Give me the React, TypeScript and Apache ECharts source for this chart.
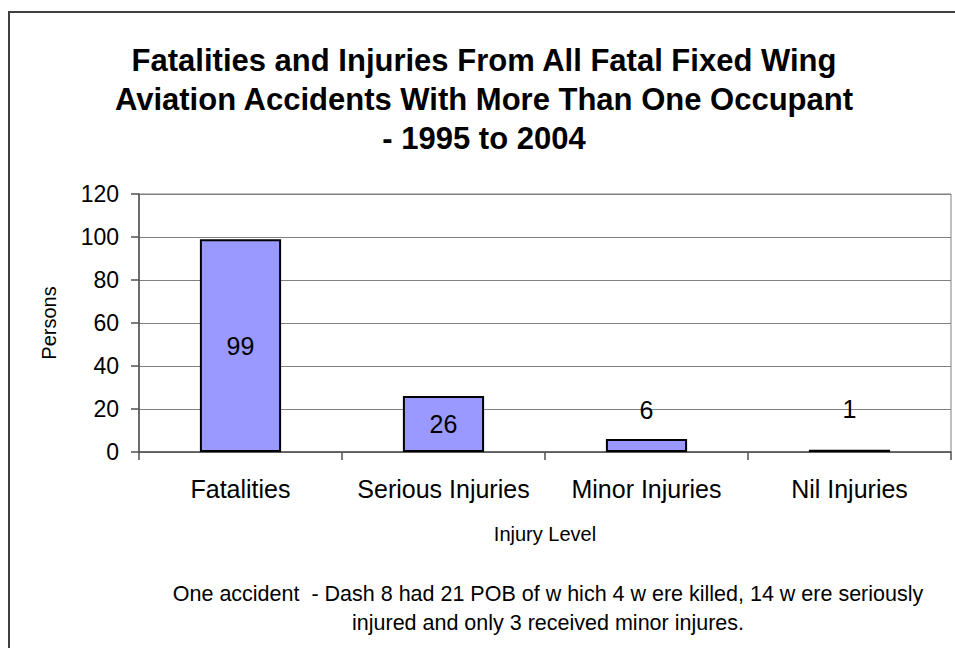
import React, { useEffect, useRef } from "react";
import * as echarts from "echarts";

const titleLines = [
  "Fatalities and Injuries From All Fatal Fixed Wing",
  "Aviation Accidents With More Than One Occupant",
  "- 1995 to 2004",
];
const categories = ["Fatalities", "Serious Injuries", "Minor Injuries", "Nil Injuries"];
const persons = [99, 26, 6, 1];
const yMin = 0;
const yMax = 120;
const yInterval = 20;
const yAxisName = "Persons";
const xAxisName = "Injury Level";
const footnoteLines = [
  "One accident  - Dash 8 had 21 POB of w hich 4 w ere killed, 14 w ere seriously",
  "injured and only 3 received minor injures.",
];

const FONT = "'Liberation Sans', Arial, sans-serif";

export default function App() {
  const ref = useRef<HTMLDivElement>(null);
  useEffect(() => {
    if (!ref.current) return;
    const chart = echarts.init(ref.current, null, { renderer: "svg" });
    const labelPlacement = [
      { position: "inside" },
      { position: "inside" },
      { position: "top", distance: 17 },
      { position: "top", distance: 28 },
    ];
    chart.setOption({
      animation: false,
      backgroundColor: "#ffffff",
      textStyle: { fontFamily: FONT },
      title: {
        text: titleLines.join("\n"),
        left: 479,
        top: 36,
        textAlign: "center",
        textStyle: {
          fontFamily: FONT,
          fontSize: 31,
          fontWeight: "bold",
          color: "#000",
          lineHeight: 39,
        },
      },
      grid: {
        left: 139,
        top: 194,
        right: 4,
        bottom: 196,
        show: true,
        borderColor: "#808080",
        borderWidth: 1,
        backgroundColor: "transparent",
      },
      xAxis: {
        type: "category",
        data: categories,
        name: xAxisName,
        nameLocation: "middle",
        nameGap: 72,
        nameTextStyle: { fontFamily: FONT, fontSize: 20, color: "#000", verticalAlign: "top" },
        axisLine: { show: true, lineStyle: { color: "#505050", width: 1.5 } },
        axisTick: { show: true, interval: 0, length: 8, lineStyle: { color: "#505050", width: 1.5 } },
        axisLabel: { interval: 0, fontFamily: FONT, fontSize: 25, color: "#000", margin: 24 },
      },
      yAxis: {
        type: "value",
        min: yMin,
        max: yMax,
        interval: yInterval,
        name: yAxisName,
        nameLocation: "middle",
        nameGap: 80,
        nameRotate: 90,
        nameTextStyle: { fontFamily: FONT, fontSize: 20, color: "#000" },
        axisLine: { show: true, lineStyle: { color: "#505050", width: 1.5 } },
        axisTick: { show: true, length: 8, lineStyle: { color: "#505050", width: 1.5 } },
        axisLabel: { fontFamily: FONT, fontSize: 23, color: "#000", margin: 20 },
        splitLine: { show: true, lineStyle: { color: "#808080", width: 1 } },
      },
      series: [
        {
          type: "bar",
          data: persons.map((v, i) => ({ value: v, label: labelPlacement[i] })),
          barCategoryGap: "60%",
          itemStyle: { color: "#9999FF", borderColor: "#000", borderWidth: 2 },
          label: {
            show: true,
            fontFamily: FONT,
            fontSize: 25,
            color: "#000",
          },
        },
      ],
      graphic: [
        {
          type: "rect",
          shape: { x: 9, y: 12, width: 960, height: 660 },
          style: { fill: "none", stroke: "#404040", lineWidth: 2 },
          silent: true,
        },
        {
          type: "text",
          x: 548,
          y: 579,
          style: {
            text: footnoteLines.join("\n"),
            fontFamily: FONT,
            fontSize: 21.5,
            fill: "#000",
            align: "center",
            lineHeight: 29,
          },
        },
      ],
    });
    return () => chart.dispose();
  }, []);
  return (
    <div
      ref={ref}
      style={{ position: "fixed", left: 0, top: 0, width: 955, height: 648 }}
    />
  );
}
